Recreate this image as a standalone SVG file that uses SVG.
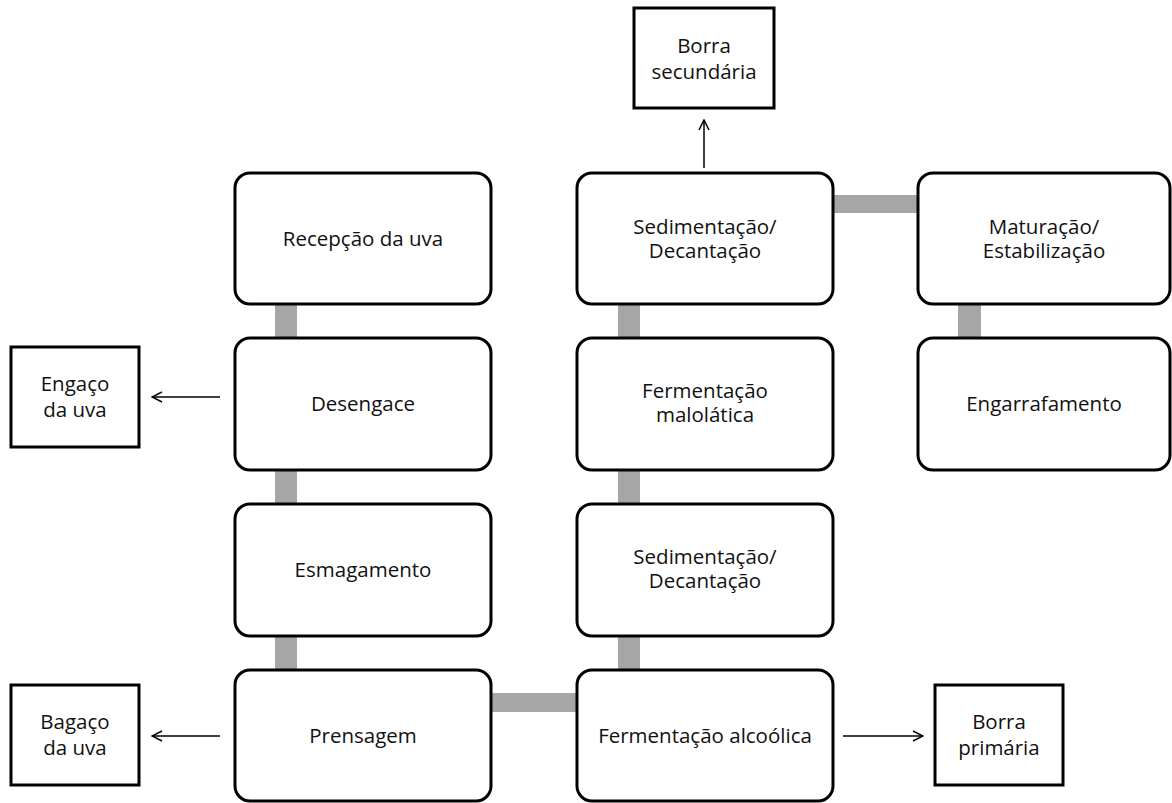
<svg xmlns="http://www.w3.org/2000/svg" width="1172" height="803" viewBox="0 0 1172 803">
<style>
.step{fill:#fff;stroke:#000;stroke-width:3}
.out{fill:#fff;stroke:#000;stroke-width:3}
.lbl{font-family:"Open Sans","Noto Sans",sans-serif;font-size:20.5px;font-weight:500;fill:#111;text-anchor:middle}
.bar{fill:#a6a6a6}
.arr{stroke:#000;stroke-width:1.5;fill:none;marker-end:url(#ah)}
</style>
<defs>
<marker id="ah" viewBox="0 0 12 12" refX="11" refY="6" markerWidth="12" markerHeight="12" markerUnits="userSpaceOnUse" orient="auto">
<path d="M1,1 L11,6 L1,11" fill="none" stroke="#000" stroke-width="1.5"/>
</marker>
</defs>
<rect width="1172" height="803" fill="#fff"/>
<g id="connectors">
<rect class="bar" x="275" y="304" width="22" height="34"/>
<rect class="bar" x="275" y="470" width="22" height="34"/>
<rect class="bar" x="275" y="636" width="22" height="34"/>
<rect class="bar" x="491" y="693" width="86" height="19"/>
<rect class="bar" x="618" y="636" width="22" height="34"/>
<rect class="bar" x="618" y="470" width="22" height="34"/>
<rect class="bar" x="618" y="304" width="22" height="34"/>
<rect class="bar" x="832" y="195" width="86" height="18"/>
<rect class="bar" x="958" y="304" width="23" height="34"/>
<line class="arr" x1="220" y1="397" x2="152" y2="397"/>
<line class="arr" x1="220" y1="736" x2="152" y2="736"/>
<line class="arr" x1="843" y1="736" x2="923" y2="736"/>
<line class="arr" x1="704" y1="168" x2="704" y2="120"/>
</g>
<g id="recepcao"><rect class="step" x="235" y="173" width="256" height="131" rx="15"/><text class="lbl" x="363" y="246">Recepção da uva</text></g>
<g id="desengace"><rect class="step" x="235" y="338" width="256" height="132" rx="15"/><text class="lbl" x="363" y="411">Desengace</text></g>
<g id="esmagamento"><rect class="step" x="235" y="504" width="256" height="132" rx="15"/><text class="lbl" x="363" y="577">Esmagamento</text></g>
<g id="prensagem"><rect class="step" x="235" y="670" width="256" height="131" rx="15"/><text class="lbl" x="363" y="743">Prensagem</text></g>
<g id="sedimentacao1"><rect class="step" x="577" y="173" width="256" height="131" rx="15"/><text class="lbl" x="705" y="234">Sedimentação/</text><text class="lbl" x="705" y="258">Decantação</text></g>
<g id="malolatica"><rect class="step" x="577" y="338" width="256" height="132" rx="15"/><text class="lbl" x="705" y="398">Fermentação</text><text class="lbl" x="705" y="422">malolática</text></g>
<g id="sedimentacao2"><rect class="step" x="577" y="504" width="256" height="132" rx="15"/><text class="lbl" x="705" y="564">Sedimentação/</text><text class="lbl" x="705" y="588">Decantação</text></g>
<g id="alcoolica"><rect class="step" x="577" y="670" width="256" height="131" rx="15"/><text class="lbl" x="705" y="743">Fermentação alcoólica</text></g>
<g id="maturacao"><rect class="step" x="918" y="173" width="252" height="131" rx="15"/><text class="lbl" x="1044" y="234">Maturação/</text><text class="lbl" x="1044" y="258">Estabilização</text></g>
<g id="engarrafamento"><rect class="step" x="918" y="338" width="252" height="132" rx="15"/><text class="lbl" x="1044" y="411">Engarrafamento</text></g>
<g id="engaco"><rect class="out" x="11" y="347" width="128" height="100"/><text class="lbl" x="75" y="391">Engaço</text><text class="lbl" x="75" y="417">da uva</text></g>
<g id="bagaco"><rect class="out" x="11" y="685" width="128" height="100"/><text class="lbl" x="75" y="729">Bagaço</text><text class="lbl" x="75" y="755">da uva</text></g>
<g id="borra-primaria"><rect class="out" x="935" y="685" width="128" height="100"/><text class="lbl" x="999" y="729">Borra</text><text class="lbl" x="999" y="755">primária</text></g>
<g id="borra-secundaria"><rect class="out" x="634" y="8" width="140" height="100"/><text class="lbl" x="704" y="53">Borra</text><text class="lbl" x="704" y="79">secundária</text></g>
</svg>
